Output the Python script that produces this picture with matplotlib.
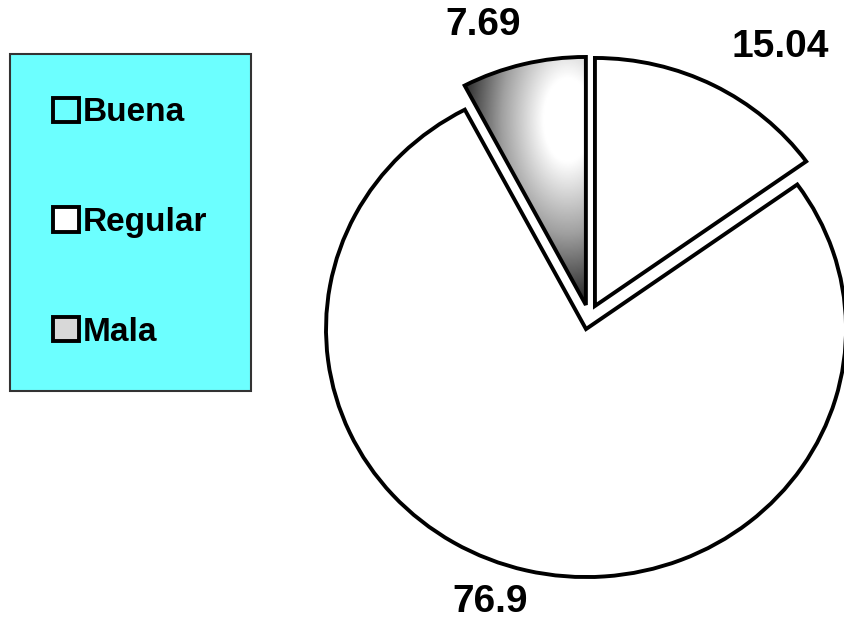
import matplotlib.pyplot as plt
import numpy as np
from matplotlib.patches import Patch
from matplotlib.colors import LinearSegmentedColormap

categorias = ["Buena", "Regular", "Mala"]
porcentajes = [15.04, 76.9, 7.69]
colores = ["white", "white", "none"]

W, H = 845, 622
fig = plt.figure(figsize=(W / 100, H / 100), dpi=100)
ax = fig.add_axes([0, 0, 1, 1])

wedges, _ = ax.pie(porcentajes, startangle=90, counterclock=False,
                   explode=[0.05, 0.05, 0.05], colors=colores,
                   wedgeprops=dict(edgecolor="black", linewidth=2.8, joinstyle="miter"))

# degradado gris (eliptico) para la porcion "Mala"
gx, gy = np.meshgrid(np.linspace(-0.6, 0.05, 250), np.linspace(-0.05, 1.05, 400))
d = np.hypot((gx + 0.081) / 0.423, (gy - 0.794) / 0.766)
cmap = LinearSegmentedColormap.from_list(
    "gris", [(0, "white"), (0.22, "white"), (0.6, "#a0a0a0"), (1, "#1c1c1c")])
img = ax.imshow(np.clip(d, 0, 1), cmap=cmap, vmin=0, vmax=1, origin="lower",
                extent=(-0.6, 0.05, -0.05, 1.05), aspect="auto", zorder=0.5,
                interpolation="bilinear")
img.set_clip_path(wedges[2])

# radio 1 -> 260 px en x, 248 px en y
ax.set_aspect("auto")
ax.set_xlim(-589 / 260, (W - 589) / 260)
ax.set_ylim(-305 / 248, (H - 305) / 248)
ax.axis("off")

# etiquetas de valor
pos_etiquetas = [(780, 47), (490, 602), (483, 25)]
for v, (px, py) in zip(porcentajes, pos_etiquetas):
    fig.text(px / W, 1 - py / H, f"{v:g}", ha="center", va="center",
             family="Liberation Sans", weight="bold", fontsize=28)

handles = [Patch(facecolor="none", edgecolor="black", linewidth=2.8),
           Patch(facecolor="white", edgecolor="black", linewidth=2.8),
           Patch(facecolor="#d8d8d8", edgecolor="black", linewidth=2.8)]
leg = fig.legend(handles, categorias, loc="upper left",
                 bbox_to_anchor=(10 / W, 1 - 54 / H), bbox_transform=fig.transFigure,
                 prop=dict(family="Liberation Sans", weight="bold", size=24),
                 frameon=True, fancybox=False, facecolor="#6cffff", edgecolor="#333333",
                 framealpha=1, borderpad=1.3, labelspacing=2.36, handlelength=0.78,
                 handleheight=0.75, handletextpad=0.1, borderaxespad=0)
leg.get_frame().set_linewidth(1.5)

fig.savefig("out.png", dpi=100)
